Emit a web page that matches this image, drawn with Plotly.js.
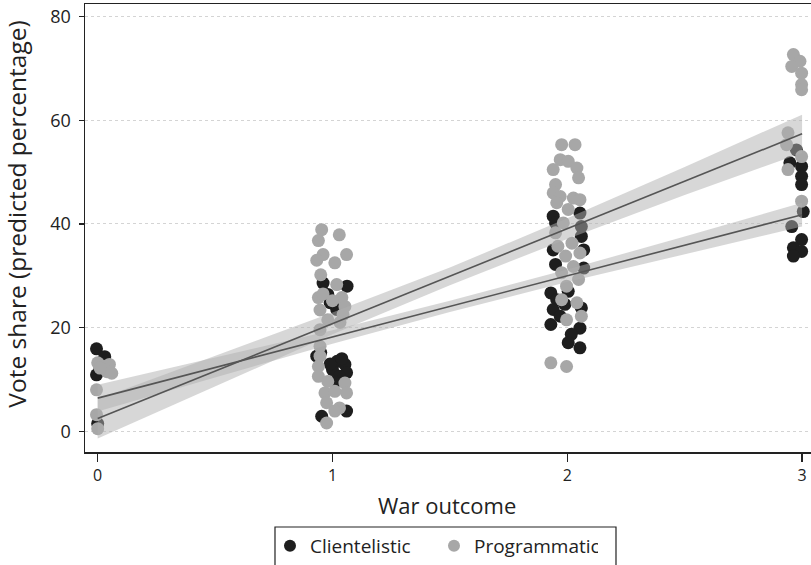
<!DOCTYPE html>
<html>
<head>
<meta charset="utf-8">
<script src="https://cdn.plot.ly/plotly-3.0.1.min.js"></script>
<style>
  html, body { margin: 0; padding: 0; background: #fff; }
  #chart { width: 811px; height: 565px; }
</style>
</head>
<body>
<div id="chart"></div>
<script>
// War outcome (jittered) and predicted vote share for clientelistic parties
const clientX = [
  -0.005, 0.03, 0.01, -0.005, 0.0,
  0.96, 1.062, 0.98, 1.018, 0.99, 0.933, 1.02, 1.053, 1.0, 1.06, 1.03, 0.99, 1.04, 1.06, 0.954, 0.95, 1.01,
  1.94, 2.054, 2.06, 1.94, 2.07, 1.95, 1.93, 1.955, 2.004, 1.94, 2.06, 1.97, 1.93, 2.054, 2.017, 2.004, 2.054, 1.95, 2.06, 2.07, 1.99,
  2.976, 2.948, 2.998, 2.998, 2.998, 3.005, 2.956, 2.998, 2.963, 2.998, 2.963
];
const clientY = [
  15.9, 14.4, 12.0, 10.9, 1.5,
  28.6, 28.0, 26.4, 23.5, 24.8, 14.5, 13.5, 12.9, 11.9, 11.3, 10.6, 13.0, 14.0, 3.9, 2.9, 15.2, 9.5,
  41.5, 42.1, 37.6, 35.0, 35.0, 32.2, 26.7, 25.4, 27.0, 23.5, 23.8, 22.2, 20.6, 19.9, 18.7, 17.1, 16.1, 40.2, 39.5, 31.5, 24.5,
  54.3, 51.8, 51.1, 49.2, 47.6, 42.4, 39.5, 37.0, 35.4, 34.7, 33.8
];

// War outcome (jittered) and predicted vote share for programmatic parties
const progX = [
  0.0, 0.02, 0.05, 0.04, 0.06, -0.005, -0.005, 0.0, 0.01,
  0.954, 1.029, 0.94, 0.96, 1.06, 0.933, 1.01, 0.95, 1.018, 0.94, 1.04, 0.947, 1.053, 0.98, 1.032, 0.947,
  0.947, 0.947, 0.94, 0.94, 0.98, 1.053, 1.06, 0.968, 1.01, 0.975, 1.03, 1.01, 0.975, 0.96, 1.0, 1.045,
  1.976, 2.033, 1.97, 2.004, 1.94, 2.041, 2.048, 1.95, 1.94, 1.97, 2.026, 2.054, 1.955, 2.004, 1.983,
  1.95, 2.02, 1.96, 2.054, 1.993, 2.026, 1.976, 2.048, 1.997, 1.976, 2.041, 2.06, 1.997, 1.93, 1.997,
  2.963, 2.991, 2.956, 2.998, 2.998, 2.998, 2.94, 2.934, 2.998, 2.94, 2.998
];
const progY = [
  13.2, 12.6, 12.9, 11.5, 11.2, 8.0, 3.2, 0.5, 12.2,
  38.9, 37.9, 36.8, 34.1, 34.1, 33.0, 32.5, 30.2, 28.3, 25.8, 25.8, 23.4, 24.1, 21.5, 21.0, 19.6,
  16.4, 14.5, 12.5, 10.6, 9.6, 9.3, 7.4, 7.4, 7.7, 5.5, 4.5, 3.9, 1.6, 26.5, 25.2, 22.5,
  55.3, 55.3, 52.4, 52.1, 50.5, 50.8, 48.9, 47.6, 46.0, 45.3, 45.0, 44.7, 44.1, 42.8, 40.2,
  38.3, 36.3, 35.7, 34.4, 33.8, 31.8, 30.6, 29.3, 28.0, 25.4, 24.8, 22.2, 21.5, 13.2, 12.5,
  72.7, 71.4, 70.4, 69.1, 66.9, 65.9, 57.6, 55.3, 53.0, 50.5, 44.4
];

// Linear fits and their confidence bands
const fitX = [0, 3];
const clientFit = [6.4, 41.8];
const progFit = [2.45, 57.4];

const bandX = [0, 0.5, 1, 1.5, 2, 2.5, 3];
const clientLower = [3.8, 10.4, 16.9, 23.0, 28.8, 34.2, 39.5];
const clientUpper = [9.0, 14.2, 19.5, 25.2, 31.2, 37.6, 44.1];
const progLower = [-1.4, 8.7, 18.7, 28.2, 37.1, 45.6, 53.7];
const progUpper = [6.2, 14.5, 22.9, 31.6, 41.1, 51.0, 61.1];

const xTicks = [0, 1, 2, 3];
const yTicks = [0, 20, 40, 60, 80];

const FONT = 'Open Sans, Lato, sans-serif';
const INK = '#222222';

function band(lower, upper) {
  return {
    x: bandX.concat(bandX.slice().reverse()),
    y: upper.concat(lower.slice().reverse()),
    type: 'scatter', mode: 'lines', fill: 'toself',
    fillcolor: 'rgba(175,175,175,0.5)',
    line: { width: 0 }, hoverinfo: 'skip', showlegend: false
  };
}
function fitLine(y) {
  return {
    x: fitX, y: y, type: 'scatter', mode: 'lines',
    line: { color: '#555555', width: 1.6 }, hoverinfo: 'skip', showlegend: false
  };
}

const traces = [
  { x: clientX, y: clientY, type: 'scatter', mode: 'markers', name: 'Clientelistic',
    marker: { color: '#1e1e1e', size: 13 } },
  { x: progX, y: progY, type: 'scatter', mode: 'markers', name: 'Programmatic',
    marker: { color: '#a7a7a7', size: 13 } },
  band(clientLower, clientUpper),
  band(progLower, progUpper),
  fitLine(clientFit),
  fitLine(progFit)
];

const layout = {
  width: 811, height: 565,
  margin: { l: 85, r: 0, t: 4, b: 113 },
  paper_bgcolor: '#ffffff', plot_bgcolor: '#ffffff',
  font: { family: FONT, color: INK, size: 16 },
  showlegend: true,
  legend: {
    orientation: 'h', x: 0.2548, xanchor: 'left', y: -0.167, yanchor: 'top',
    font: { family: FONT, size: 19, color: INK }, bgcolor: 'rgba(0,0,0,0)',
    itemsizing: 'constant', entrywidthmode: 'pixels', entrywidth: 119
  },
  xaxis: {
    range: [-0.054, 3.038], tickvals: xTicks, ticktext: xTicks.map(String),
    showline: true, linecolor: INK, linewidth: 1.5, mirror: true,
    ticks: 'outside', ticklen: 8, tickwidth: 1.2, tickcolor: INK,
    showgrid: false, zeroline: false,
    tickfont: { family: FONT, size: 16, color: INK }
  },
  yaxis: {
    range: [-4, 82.45], tickvals: yTicks, ticktext: yTicks.map(String),
    showline: true, linecolor: INK, linewidth: 1.5, mirror: false,
    ticks: 'outside', ticklen: 5, tickwidth: 1.2, tickcolor: INK,
    ticklabelstandoff: 4,
    showgrid: true, gridcolor: '#d4d4d4', gridwidth: 1, griddash: '3px,3px',
    zeroline: false,
    tickfont: { family: FONT, size: 18, color: INK }
  },
  annotations: [
    { text: 'War outcome', xref: 'paper', yref: 'paper', x: 0.4986, y: -0.118,
      xanchor: 'center', yanchor: 'middle', showarrow: false,
      font: { family: FONT, size: 22, color: INK } },
    { text: 'Vote share (predicted percentage)', xref: 'paper', yref: 'paper',
      x: -0.0937, y: 0.532, xanchor: 'center', yanchor: 'middle', textangle: -90,
      showarrow: false, font: { family: FONT, size: 24.5, color: INK } }
  ],
  shapes: [
    { type: 'rect', xref: 'paper', yref: 'paper', x0: 0.2617, x1: 0.7314,
      y0: -0.1674, y1: -0.32, line: { color: INK, width: 1.2 }, fillcolor: 'rgba(0,0,0,0)' }
  ]
};

Plotly.newPlot('chart', traces, layout, { displayModeBar: false, staticPlot: true });
</script>
</body>
</html>
